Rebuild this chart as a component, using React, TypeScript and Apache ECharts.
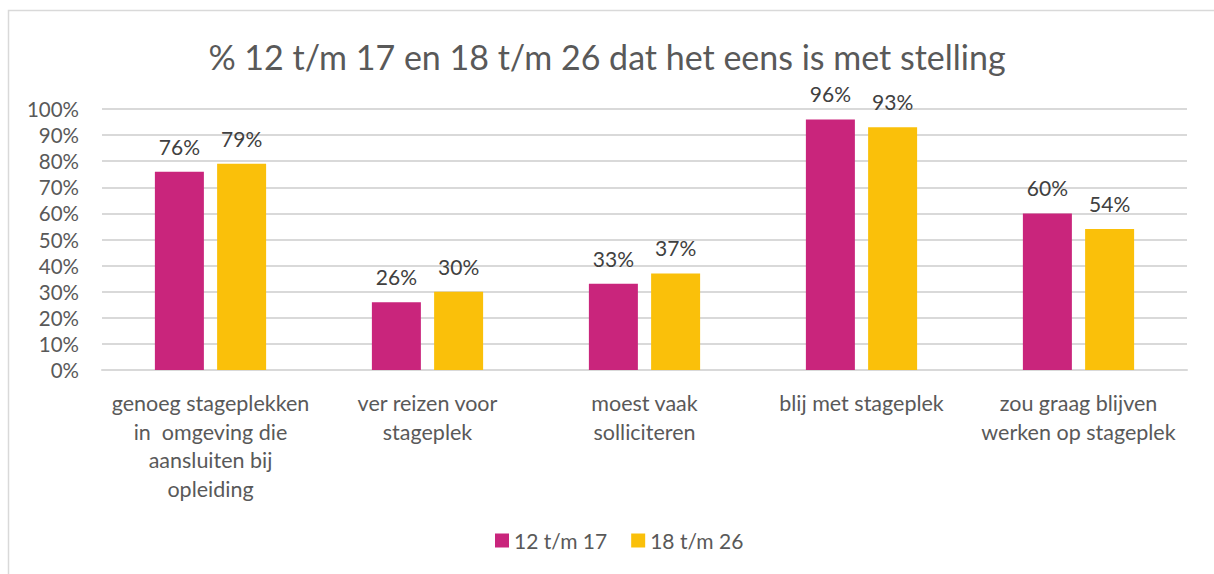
import React, { useEffect, useRef } from "react";
import * as echarts from "echarts";

const TITLE = "% 12 t/m 17 en 18 t/m 26 dat het eens is met stelling";
const categories = [
  "genoeg stageplekken\nin  omgeving die\naansluiten bij\nopleiding",
  "ver reizen voor\nstageplek",
  "moest vaak\nsolliciteren",
  "blij met stageplek",
  "zou graag blijven\nwerken op stageplek",
];
const seriesNames = ["12 t/m 17", "18 t/m 26"];
const values1217 = [76, 26, 33, 96, 60];
const values1826 = [79, 30, 37, 93, 54];
const colors = ["#C9257C", "#FAC00A"];

const FONT = "Lato, 'Open Sans', sans-serif";

export default function App() {
  const ref = useRef<HTMLDivElement>(null);
  useEffect(() => {
    if (!ref.current) return;
    const chart = echarts.init(ref.current, null, { renderer: "svg" });
    const mkSeries = (name: string, data: number[], color: string) => ({
      name,
      type: "bar",
      data,
      barWidth: 49,
      barGap: "27%",
      itemStyle: { color },
      label: {
        show: true,
        position: "top",
        distance: 15,
        formatter: "{c}%",
        color: "#404040",
        fontSize: 21,
        fontFamily: FONT,
      },
    });
    chart.setOption({
      animation: false,
      textStyle: { fontFamily: FONT },
      title: {
        text: TITLE,
        left: "center",
        top: 34,
        textStyle: { fontSize: 34, fontWeight: "normal", color: "#595959", fontFamily: FONT },
      },
      legend: {
        data: seriesNames,
        bottom: 18,
        left: 490,
        itemWidth: 14,
        itemHeight: 14,
        itemGap: 24,
        icon: "rect",
        textStyle: { fontSize: 21, color: "#595959", fontFamily: FONT },
      },
      grid: { left: 102, right: 27, top: 109, bottom: 204, containLabel: false },
      xAxis: {
        type: "category",
        data: categories,
        axisLine: { show: true, lineStyle: { color: "#d9d9d9", width: 2 } },
        axisTick: { show: false },
        axisLabel: {
          interval: 0,
          margin: 19,
          fontSize: 21.5,
          lineHeight: 28.5,
          color: "#595959",
          fontFamily: FONT,
        },
      },
      yAxis: {
        type: "value",
        min: 0,
        max: 100,
        interval: 10,
        axisLine: { show: false },
        axisTick: { show: false },
        axisLabel: {
          formatter: "{value}%",
          fontSize: 20.5,
          color: "#595959",
          margin: 23,
          fontFamily: FONT,
        },
        splitLine: { lineStyle: { color: "#d9d9d9", width: 2 } },
      },
      graphic: [
        {
          type: "rect",
          shape: { x: 8.5, y: 10.5, width: 1230, height: 600 },
          style: { fill: "none", stroke: "#d9d9d9", lineWidth: 1.5 },
          silent: true,
        },
      ],
      series: [
        mkSeries(seriesNames[0], values1217, colors[0]),
        mkSeries(seriesNames[1], values1826, colors[1]),
      ],
    });
    return () => chart.dispose();
  }, []);
  return (
    <div
      ref={ref}
      style={{ position: "absolute", left: 0, top: 0, width: 1214, height: 574, background: "#fff" }}
    />
  );
}
